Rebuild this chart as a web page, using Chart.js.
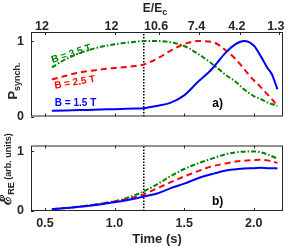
<!DOCTYPE html>
<html>
<head>
<meta charset="utf-8">
<script src="https://cdn.jsdelivr.net/npm/chart.js@4"></script>
<style>
  html, body { margin: 0; padding: 0; background: #fff; overflow: hidden; }
  #wrap { position: relative; width: 287px; height: 247px; }
  canvas { position: absolute; left: 0; }
  #chartA { top: 0; }
  #chartB { top: 131px; }
</style>
</head>
<body>
<div id="wrap">
  <canvas id="chartA" width="287" height="131"></canvas>
  <canvas id="chartB" width="287" height="116"></canvas>
</div>
<script>
// ---- data ----
const timeS = [0.55, 0.65, 0.75, 0.85, 0.95, 1.05, 1.15, 1.21, 1.3, 1.4, 1.5,
               1.6, 1.7, 1.8, 1.87, 1.93, 2.0, 2.05, 2.1, 2.13, 2.17];

// panel a) normalised synchrotron power
const synch15 = [0.075, 0.08, 0.085, 0.09, 0.095, 0.10, 0.105, 0.11, 0.14, 0.18, 0.28,
                 0.46, 0.63, 0.85, 0.96, 1.0, 0.94, 0.80, 0.64, 0.56, 0.36];
const synch25 = [0.49, 0.54, 0.585, 0.61, 0.635, 0.65, 0.67, 0.69, 0.76, 0.87, 0.96,
                 1.0, 0.99, 0.875, 0.76, 0.63, 0.48, 0.39, 0.29, 0.23, 0.14];
const synch35 = [0.65, 0.76, 0.84, 0.90, 0.94, 0.97, 0.99, 1.0, 1.0, 0.985, 0.935,
                 0.83, 0.70, 0.55, 0.46, 0.36, 0.27, 0.23, 0.185, 0.165, 0.14];

// panel b) runaway electron energy
const energy15 = [0.03, 0.05, 0.07, 0.095, 0.13, 0.165, 0.21, 0.245, 0.29, 0.38, 0.46,
                  0.55, 0.62, 0.68, 0.70, 0.715, 0.72, 0.725, 0.72, 0.72, 0.715];
const energy25 = [0.03, 0.05, 0.072, 0.10, 0.14, 0.18, 0.235, 0.28, 0.375, 0.48, 0.58,
                  0.67, 0.75, 0.80, 0.83, 0.845, 0.855, 0.86, 0.85, 0.83, 0.81];
const energy35 = [0.03, 0.05, 0.075, 0.105, 0.145, 0.19, 0.27, 0.33, 0.44, 0.58, 0.705,
                  0.80, 0.88, 0.955, 0.985, 0.997, 1.0, 0.985, 0.95, 0.92, 0.88];

const markTime = 1.21;
const timeTicks = [0.5, 1, 1.5, 2];
const ratioTickTimes = [0.5, 1.0, 1.32, 1.61, 1.9, 2.18];
const ratioTickLabels = ['12', '12', '10.6', '7.4', '4.2', '1.3'];
const valueTicks = [0, 1];

// ---- styling ----
const axisColor = '#262626';
const blue = '#0000ff';
const red = '#ff0000';
const green = '#008000';
const fam = '"Liberation Sans", Arial, sans-serif';
const tMin = 0.4, tMax = 2.21;

const pts = (ys) => timeS.map((t, i) => ({ x: t, y: ys[i] }));

const curve = (label, ys, color, dash) => ({
    label,
    data: pts(ys),
    borderColor: color,
    borderWidth: 2,
    borderDash: dash,
    pointRadius: 0,
    fill: false,
    cubicInterpolationMode: 'monotone'
});

const markLine = (top) => ({
    label: 'mark',
    data: [{ x: markTime, y: 0 }, { x: markTime, y: top }],
    borderColor: '#000',
    borderWidth: 1.5,
    borderDash: [1.5, 1.5],
    pointRadius: 0
});

// box round the plot area + inward tick marks
const frameTicks = {
    id: 'frameTicks',
    afterDatasetsDraw(chart, args, opts) {
        const { ctx, chartArea: a, scales } = chart;
        const len = 3;
        ctx.save();
        ctx.strokeStyle = axisColor;
        ctx.lineWidth = 1;
        ctx.strokeRect(a.left + 0.5, a.top + 0.5, a.right - a.left - 1, a.bottom - a.top - 1);
        ctx.beginPath();
        scales.x.ticks.forEach(t => {
            const px = Math.round(scales.x.getPixelForValue(t.value)) + 0.5;
            ctx.moveTo(px, a.bottom); ctx.lineTo(px, a.bottom - len);
            if (opts.mirror) { ctx.moveTo(px, a.top); ctx.lineTo(px, a.top + len); }
        });
        if (scales.x2) {
            scales.x2.ticks.forEach(t => {
                const px = Math.round(scales.x2.getPixelForValue(t.value)) + 0.5;
                ctx.moveTo(px, a.top); ctx.lineTo(px, a.top + len);
            });
        }
        scales.y.ticks.forEach(t => {
            const py = Math.round(scales.y.getPixelForValue(t.value)) + 0.5;
            ctx.moveTo(a.left, py); ctx.lineTo(a.left + len, py);
        });
        ctx.stroke();
        ctx.restore();
    }
};

// free text: labels along curves, panel tags, axis titles with subscripts
const textAt = (ctx, str, x, y, font, color, angle) => {
    ctx.save();
    ctx.translate(x, y);
    ctx.rotate((angle || 0) * Math.PI / 180);
    ctx.font = font;
    ctx.fillStyle = color;
    ctx.textAlign = 'center';
    ctx.textBaseline = 'middle';
    ctx.fillText(str, 0, 0);
    ctx.restore();
};

const subTitle = (ctx, x, y, angle, main, mainFont, sub, subFont, tail, tailFont) => {
    ctx.save();
    ctx.translate(x, y);
    ctx.rotate(angle * Math.PI / 180);
    ctx.fillStyle = axisColor;
    ctx.textBaseline = 'alphabetic';
    ctx.font = mainFont; const w1 = ctx.measureText(main).width;
    ctx.font = subFont; const w2 = ctx.measureText(sub).width;
    let w3 = 0;
    if (tail) { ctx.font = tailFont; w3 = ctx.measureText(tail).width; }
    let cx = -(w1 + w2 + w3) / 2;
    ctx.font = mainFont; ctx.fillText(main, cx, 0); cx += w1;
    ctx.font = subFont; ctx.fillText(sub, cx, 3); cx += w2;
    if (tail) { ctx.font = tailFont; ctx.fillText(tail, cx, 0); }
    ctx.restore();
};

const textsA = {
    id: 'textsA',
    afterDraw(chart) {
        const { ctx, scales: { x, y } } = chart;
        const f = 'bold 10px ' + fam;
        textAt(ctx, 'B = 3.5 T', x.getPixelForValue(0.69), y.getPixelForValue(0.83), f, green, -18);
        textAt(ctx, 'B = 2.5 T', x.getPixelForValue(0.715), y.getPixelForValue(0.45), f, red, -10);
        textAt(ctx, 'B = 1.5 T', x.getPixelForValue(0.72), y.getPixelForValue(0.17), f, blue, 0);
        textAt(ctx, 'a)', x.getPixelForValue(1.74), y.getPixelForValue(0.17), 'bold 12px ' + fam, '#000', 0);
        subTitle(ctx, 155, 12, 0, 'E/E', 'bold 12px ' + fam, 'c', 'bold 9px ' + fam);
        subTitle(ctx, 17, 81, -90, 'P', 'bold 13px ' + fam, 'synch.', 'bold 9px ' + fam);
    }
};

const textsB = {
    id: 'textsB',
    afterDraw(chart) {
        const { ctx, scales: { x, y } } = chart;
        textAt(ctx, 'b)', x.getPixelForValue(1.74), y.getPixelForValue(0.16), 'bold 12px ' + fam, '#000', 0);
        subTitle(ctx, 11, 38, -90, '\u2130', 'bold 16px "DejaVu Serif", serif', 'RE', 'bold 9px ' + fam,
                 ' (arb. units)', 'bold 9px ' + fam);
    }
};

const tickFont = { family: fam, size: 12.5, weight: 'bold' };
const noGrid = { display: false, drawTicks: false };

const fixedTicks = (list) => (axis) => { axis.ticks = list.map(v => ({ value: v })); };

// ---------- panel a) ----------
new Chart(document.getElementById('chartA').getContext('2d'), {
    type: 'line',
    data: {
        datasets: [
            curve('B = 1.5 T', synch15, blue, []),
            curve('B = 2.5 T', synch25, red, [6, 4]),
            curve('B = 3.5 T', synch35, green, [5, 2, 1.5, 2]),
            markLine(1.12)
        ]
    },
    options: {
        responsive: false,
        animation: false,
        layout: { padding: { left: 0, right: 4, top: 0, bottom: 0 } },
        plugins: { legend: { display: false }, tooltip: { enabled: false }, frameTicks: { mirror: false } },
        scales: {
            x: {
                type: 'linear', position: 'bottom', min: tMin, max: tMax,
                afterBuildTicks: fixedTicks(timeTicks),
                ticks: { display: false },
                grid: noGrid,
                border: { display: false },
                afterFit: (s) => { s.height = 3; }
            },
            x2: {
                type: 'linear', position: 'top', min: tMin, max: tMax,
                afterBuildTicks: fixedTicks(ratioTickTimes),
                ticks: {
                    font: tickFont, color: axisColor, padding: -2, labelOffset: -3,
                    autoSkip: false, maxRotation: 0,
                    callback: (v, i) => ratioTickLabels[i]
                },
                grid: noGrid,
                border: { display: false },
                afterFit: (s) => { s.height = 32; }
            },
            y: {
                min: 0, max: 1.12,
                afterBuildTicks: fixedTicks(valueTicks),
                ticks: { font: tickFont, color: axisColor, padding: 7 },
                grid: noGrid,
                border: { display: false },
                afterFit: (s) => { s.width = 31; }
            }
        }
    },
    plugins: [frameTicks, textsA]
});

// ---------- panel b) ----------
new Chart(document.getElementById('chartB').getContext('2d'), {
    type: 'line',
    data: {
        datasets: [
            curve('B = 1.5 T', energy15, blue, []),
            curve('B = 2.5 T', energy25, red, [6, 4]),
            curve('B = 3.5 T', energy35, green, [5, 2, 1.5, 2]),
            markLine(1.1)
        ]
    },
    options: {
        responsive: false,
        animation: false,
        layout: { padding: { left: 0, right: 4, top: 4, bottom: 0 } },
        plugins: { legend: { display: false }, tooltip: { enabled: false }, frameTicks: { mirror: true } },
        scales: {
            x: {
                type: 'linear', position: 'bottom', min: tMin, max: tMax,
                afterBuildTicks: fixedTicks(timeTicks),
                ticks: { font: tickFont, color: axisColor, padding: 5, autoSkip: false, maxRotation: 0 },
                grid: noGrid,
                border: { display: false },
                title: {
                    display: true, text: 'Time (s)', color: axisColor,
                    font: { family: fam, size: 13, weight: 'bold' },
                    padding: { top: 0, bottom: 0 }
                },
                afterFit: (s) => { s.height = 36; }
            },
            y: {
                min: 0, max: 1.1,
                afterBuildTicks: fixedTicks(valueTicks),
                ticks: { font: tickFont, color: axisColor, padding: 7 },
                grid: noGrid,
                border: { display: false },
                afterFit: (s) => { s.width = 31; }
            }
        }
    },
    plugins: [frameTicks, textsB]
});
</script>
</body>
</html>
